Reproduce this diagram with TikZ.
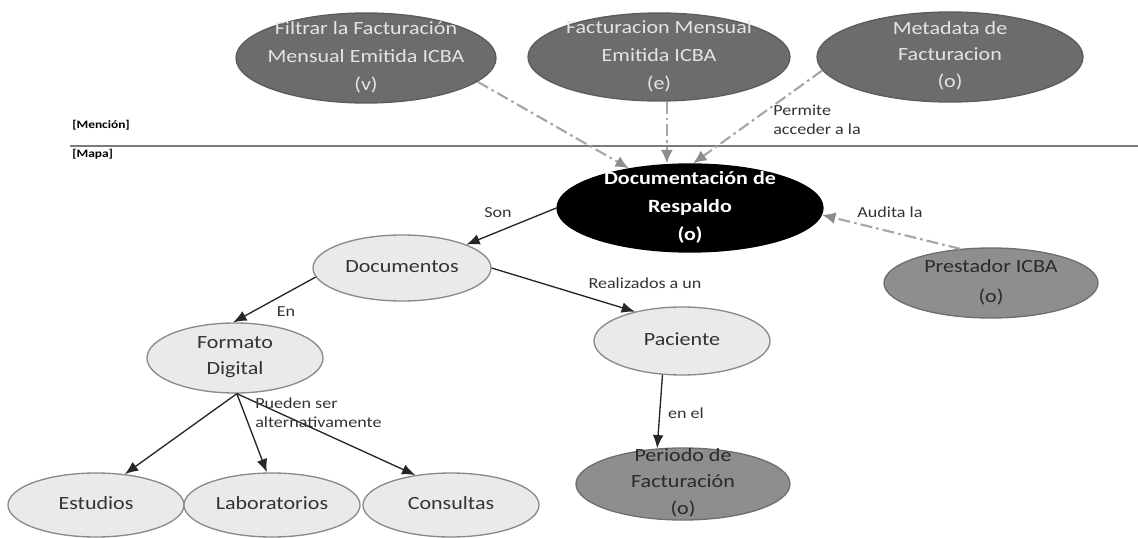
\documentclass[tikz,border=0pt]{standalone}
\usepackage{fontspec}
\setmainfont{Carlito}[FakeStretch=1.18]
\usetikzlibrary{shapes.geometric,arrows.meta}

\definecolor{darkfill}{HTML}{6C6C6C}
\definecolor{darkedge}{HTML}{5C5C5C}
\definecolor{darktext}{HTML}{E4E4E4}
\definecolor{midfill}{HTML}{8E8E8E}
\definecolor{midedge}{HTML}{6E6E6E}
\definecolor{midtext}{HTML}{2A2A2A}
\definecolor{lightfill}{HTML}{EAEAEA}
\definecolor{lightedge}{HTML}{8A8A8A}
\definecolor{lighttext}{HTML}{333333}
\definecolor{solidline}{HTML}{262626}
\definecolor{auxline}{HTML}{A6A6A6}
\definecolor{auxtip}{HTML}{8C8C8C}
\definecolor{labeltext}{HTML}{333333}
\definecolor{sepline}{HTML}{7A7A7A}

% centred text block that does not enlarge the ellipse around it
\newcommand\ctext[2][21pt]{\makebox[0pt]{\raisebox{-0.25em}[0pt][0pt]{\fontsize{14}{#1}\selectfont\begin{tabular}{@{}c@{}}#2\end{tabular}}}}

\tikzset{
  ell/.style={ellipse, inner sep=0pt, line width=1pt},
  dark/.style={ell, fill=darkfill, draw=darkedge, text=darktext},
  blk/.style={ell, fill=black, draw=black, text=white, font=\bfseries},
  mid/.style={ell, fill=midfill, draw=midedge, text=midtext},
  light/.style={ell, fill=lightfill, draw=lightedge, text=lighttext},
  rel/.style={draw=solidline, line width=1pt, -{Latex[length=10pt,width=8pt]}},
  aux/.style={draw=auxline, line width=1.6pt, dash pattern=on 9pt off 3pt on 2pt off 3pt,
              -{Latex[length=10pt,width=9pt,color=auxtip]}},
  lbl/.style={font=\fontsize{11.5}{14}\selectfont, text=labeltext, inner sep=0pt},
  zone/.style={font=\bfseries\fontsize{8.5}{10}\selectfont, text=black, inner sep=0pt, anchor=west},
}

\begin{document}
\begin{tikzpicture}[x=0.75pt, y=-0.75pt]
\useasboundingbox (0,0) rectangle (1138,538);

% zone separator
\draw[sepline, line width=0.8pt] (70,146) -- (1138,146);
\node[zone] (mencion) at (72,125) {[Mención]};
\node[zone] (mapa) at (72,154) {[Mapa]};

% upper concepts
\node[dark, minimum width=195pt, minimum height=67.5pt] (fil) at (366,58)
  {\ctext{Filtrar la Facturación\\Mensual Emitida ICBA\\(v)}};
\node[dark, minimum width=196.5pt, minimum height=66pt] (fac) at (659,57)
  {\ctext{Facturacion Mensual\\Emitida ICBA\\(e)}};
\node[dark, minimum width=199.5pt, minimum height=67.5pt] (meta) at (950,57)
  {\ctext[20pt]{Metadata de\\Facturacion\\(o)}};

% central concept
\node[blk, minimum width=199.5pt, minimum height=66pt] (doc) at (690,208)
  {\ctext{Documentación de\\Respaldo\\(o)}};
\node[mid, minimum width=160.5pt, minimum height=52.5pt] (pre) at (991,283)
  {\ctext[22pt]{Prestador ICBA\\(o)}};

% map concepts
\node[light, minimum width=133.5pt, minimum height=49.5pt] (dcs) at (402,268)
  {\ctext{Documentos}};
\node[light, minimum width=132pt, minimum height=52.5pt] (fmt) at (235,358)
  {\ctext[19pt]{Formato\\Digital}};
\node[light, minimum width=132pt, minimum height=51pt] (pac) at (682,341)
  {\ctext{Paciente}};
\node[mid, minimum width=160.5pt, minimum height=54pt] (per) at (683,484)
  {\ctext[20pt]{Periodo de\\Facturación\\(o)}};
\node[light, minimum width=132pt, minimum height=48pt] (est) at (96,505)
  {\ctext{Estudios}};
\node[light, minimum width=132pt, minimum height=48pt] (lab) at (272,505)
  {\ctext{Laboratorios}};
\node[light, minimum width=132pt, minimum height=48pt] (con) at (451,505)
  {\ctext{Consultas}};

% links from the mention zone
\draw[aux] (fil.-12) -- (doc.147);
\draw[aux] (fac.-80) -- (fac.-80 |- doc.north);
\draw[aux] (meta.186) -- (doc.86);
\node[lbl, anchor=west, align=left] (lpermite) at (773,120) {Permite\\acceder a la};
\draw[aux] (pre.132) -- (doc.-3);
\node[lbl] (laudita) at (890,212) {Audita la};

% links inside the map
\draw[rel] (doc.west) -- (dcs.20);
\node[lbl] (lson) at (498,213) {Son};
\draw[rel] (dcs.186) -- (fmt.93);
\node[lbl] (len) at (286,312) {En};
\draw[rel] (dcs.east) -- (pac.148);
\node[lbl] (lreal) at (645,283) {Realizados a un};
\draw[rel] (pac.240) -- (per.126);
\node[lbl] (lenel) at (686,413) {en el};
\draw[rel] (fmt.-87) -- (est.47);
\draw[rel] (fmt.-87) -- (lab.99);
\draw[rel] (fmt.-87) -- (con.140);
\node[lbl, anchor=west, align=left] (lpueden) at (255,413) {Pueden ser\\alternativamente};
\end{tikzpicture}
\end{document}
